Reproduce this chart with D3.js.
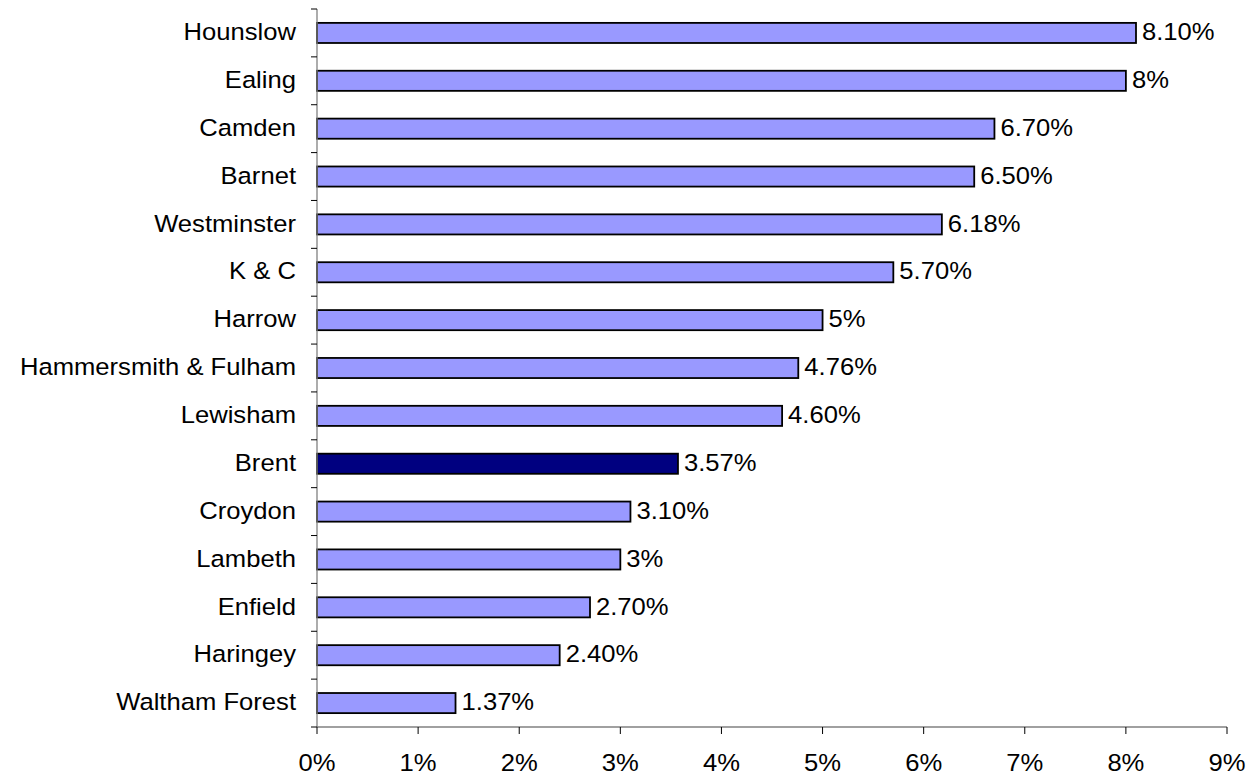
<!DOCTYPE html>
<html><head><meta charset="utf-8">
<script src="https://cdn.jsdelivr.net/npm/d3@7"></script>
<style>body{margin:0;background:#fff;}svg{display:block;font-family:"Liberation Sans",Arial,sans-serif;}</style>
</head><body>
<script>
const categories = ["Hounslow","Ealing","Camden","Barnet","Westminster","K & C","Harrow","Hammersmith & Fulham","Lewisham","Brent","Croydon","Lambeth","Enfield","Haringey","Waltham Forest"];
const values = [8.10,8.00,6.70,6.50,6.18,5.70,5.00,4.76,4.60,3.57,3.10,3.00,2.70,2.40,1.37];
const valueLabels = ["8.10%","8%","6.70%","6.50%","6.18%","5.70%","5%","4.76%","4.60%","3.57%","3.10%","3%","2.70%","2.40%","1.37%"];
const xTicks = [0,1,2,3,4,5,6,7,8,9];
const highlight = "Brent";

const W=1250,H=778, FS=23.5, SX=1.09;
const svg=d3.select("body").append("svg").attr("width",W).attr("height",H);
const x=d3.scaleLinear().domain([0,9]).range([317,1227]);
const y=d3.scaleBand().domain(categories).range([9,727]).paddingInner(0.58).paddingOuter(0.29);
const yb=d3.scaleBand().domain(categories).range([9,727]);

function txt(sel, fx, fy){
  return sel.attr("transform",(d,i)=>`translate(${fx(d,i)},${fy(d,i)}) scale(${SX},1)`)
    .attr("font-size",FS).attr("fill","#000");
}

// bars
svg.selectAll("rect.bar").data(categories).enter().append("rect")
 .attr("x",x(0)).attr("y",d=>y(d)).attr("height",y.bandwidth())
 .attr("width",(d,i)=>x(values[i])-x(0))
 .attr("fill",d=>d===highlight?"#000080":"#9999FF")
 .attr("stroke","#000").attr("stroke-width",1.8);

// value labels
txt(svg.selectAll("text.val").data(categories).enter().append("text"),
  (d,i)=>x(values[i])+6, d=>y(d)+y.bandwidth()/2-1)
 .attr("dy","0.35em").text((d,i)=>valueLabels[i]);

// y axis
const g=svg.append("g");
g.append("line").attr("x1",317).attr("x2",317).attr("y1",9).attr("y2",727).attr("stroke","#808080").attr("stroke-width",1.3);
const bounds=categories.map(c=>yb(c)).concat([727]);
g.selectAll("line.yt").data(bounds).enter().append("line")
 .attr("x1",311).attr("x2",317).attr("y1",d=>d).attr("y2",d=>d).attr("stroke","#000").attr("stroke-width",1);
txt(g.selectAll("text.cat").data(categories).enter().append("text"),
  d=>296, d=>yb(d)+yb.bandwidth()/2-1)
 .attr("dy","0.35em").attr("text-anchor","end").text(d=>d);

// x axis
g.append("line").attr("x1",317).attr("x2",1227).attr("y1",727).attr("y2",727).attr("stroke","#808080").attr("stroke-width",1.3);
g.selectAll("line.xt").data(xTicks).enter().append("line")
 .attr("x1",d=>x(d)).attr("x2",d=>x(d)).attr("y1",727).attr("y2",734).attr("stroke","#000").attr("stroke-width",1);
txt(g.selectAll("text.xt").data(xTicks).enter().append("text"),
  d=>x(d), d=>771)
 .attr("text-anchor","middle").text(d=>d+"%");
</script>
</body></html>
